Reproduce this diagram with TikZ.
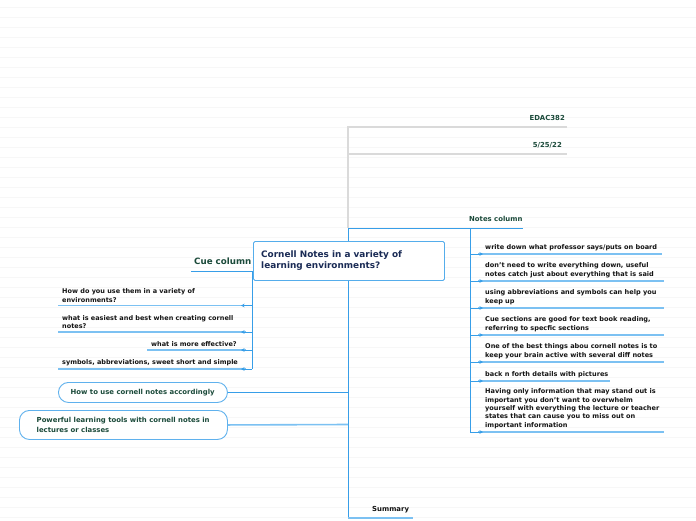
\documentclass[tikz,border=0pt]{standalone}
\usepackage{fontspec}
\setmainfont{DejaVu Sans}
\usetikzlibrary{arrows.meta}
\definecolor{bline}{HTML}{379EE8}
\definecolor{lline}{HTML}{7CC1F2}
\definecolor{gline}{HTML}{DADADA}
\definecolor{dgreen}{HTML}{1B4A3A}
\definecolor{navy}{HTML}{1A2B55}
\definecolor{bgline}{HTML}{F7F7F7}
\definecolor{ink}{HTML}{141414}
\begin{document}
\begin{tikzpicture}[x=1pt,y=-1pt,
  leaf/.style={font=\fontsize{6.55}{8.3}\selectfont\bfseries, text=ink, align=left, inner sep=0pt, anchor=south west},
  cueleaf/.style={font=\fontsize{6.5}{8.3}\selectfont\bfseries, text=ink, align=left, inner sep=0pt, anchor=south west},
  head/.style={font=\fontsize{6.9}{8}\selectfont\bfseries, text=dgreen, inner sep=0pt},
  trunk/.style={draw=bline, line width=0.9pt},
  under/.style={draw=lline, line width=1.6pt},
  gtrunk/.style={draw=gline, line width=1.5pt},
  tip/.style={draw=bline, line width=0.9pt, -{Stealth[length=3.5pt,width=3.5pt]}},
  pill/.style={draw=bline!80, line width=0.9pt, rounded corners=10pt, fill=white},
  pilltext/.style={font=\fontsize{6.9}{9.3}\selectfont\bfseries, text=dgreen, align=left, inner sep=0pt}
]
\useasboundingbox (0,0) rectangle (696,520);
\fill[white] (0,0) rectangle (696,520);
\foreach \yy in {7,17,...,517} \draw[bgline,line width=0.7pt] (0,\yy) -- (696,\yy);

% ---- gray date branches
\coordinate (gtop) at (348,127);
\coordinate (gmid) at (348,154);
\coordinate (jn) at (348,228);
\coordinate (g1e) at (567,127);
\coordinate (g2e) at (567,154);
\node[head, anchor=base east] (edac) at (565,120) {EDAC382};
\node[head, anchor=base east] (date) at (562,147) {5/25/22};
\draw[gtrunk] (g1e) -- (gtop) -- (jn);
\draw[gtrunk] (gmid) -- (g2e);

% ---- main trunk
\coordinate (sumend) at (348,518);
\draw[trunk] (jn) -- (sumend);

% ---- notes column
\coordinate (nce) at (523,228);
\coordinate (nv) at (470,228);
\coordinate (nvb) at (470,432);
\node[head, anchor=base west] (notescol) at (469,221) {Notes column};
\draw[trunk] (jn) -- (nce);
\draw[trunk] (nv) -- (nvb);

\foreach \i/\yy/\xe/\txt in {
 1/254/662/{write down what professor says/puts on board},
 2/281/664/{don't need to write everything down, useful\\notes catch just about everything that is said},
 3/308/664/{using abbreviations and symbols can help you\\keep up},
 4/335/664/{Cue sections are good for text book reading,\\referring to specfic sections},
 5/362/664/{One of the best things abou cornell notes is to\\keep your brain active with several diff notes},
 6/381/610/{back n forth details with pictures},
 7/432/664/{Having only information that may stand out is\\important you don't want to overwhelm\\yourself with everything the lecture or teacher\\states that can cause you to miss out on\\important information}} {
  \node[leaf] (note\i) at (485,\yy-3.3) {\txt};
  \coordinate (ns\i) at (470,\yy);
  \coordinate (nh\i) at (483,\yy);
  \coordinate (nu\i) at (478,\yy);
  \coordinate (ne\i) at (\xe,\yy);
  \draw[under] (nu\i) -- (ne\i);
  \draw[tip] (ns\i) -- (nh\i);
}

% ---- cue column
\coordinate (cv) at (252,271);
\coordinate (cvb) at (252,369);
\coordinate (cus) at (191,271);
\node[font=\fontsize{8.7}{9}\selectfont\bfseries, text=dgreen, inner sep=0pt, anchor=base west] (cuecol) at (194,264.5) {Cue column};
\draw[trunk] (cus) -- (cv) -- (cvb);

\foreach \i/\yy/\xs in {1/305.5/58, 2/332/58, 3/350/147, 4/369/58} {
  \coordinate (cs\i) at (252,\yy);
  \coordinate (ch\i) at (241,\yy);
  \coordinate (cu\i) at (246,\yy);
  \coordinate (ce\i) at (\xs,\yy);
  \draw[under] (cu\i) -- (ce\i);
  \draw[tip] (cs\i) -- (ch\i);
}
\node[cueleaf] (cue1) at (62,302.3) {How do you use them in a variety of\\environments?};
\node[cueleaf] (cue2) at (62,328.8) {what is easiest and best when creating cornell\\notes?};
\node[cueleaf] (cue3) at (151,346.8) {what is more effective?};
\node[cueleaf] (cue4) at (62,365.8) {symbols, abbreviations, sweet short and simple};

% ---- central topic
\node[draw=bline!85, line width=0.9pt, rounded corners=1.5pt, fill=white,
      minimum width=191pt, minimum height=39pt, anchor=north west, inner sep=0pt] (root) at (253,241) {};
\node[font=\fontsize{8.9}{11}\selectfont\bfseries, text=navy, align=left, inner sep=0pt, anchor=north west] (roottext) at (261,250.3) {Cornell Notes in a variety of\\learning environments?};

% ---- pills
\node[pill, minimum width=169pt, minimum height=20pt, anchor=north west, inner sep=0pt] (p1) at (58,382) {};
\node[pilltext, anchor=west] (p1t) at (70.5,392.5) {How to use cornell notes accordingly};
\node[pill, minimum width=208pt, minimum height=29pt, anchor=north west, inner sep=0pt] (p2) at (19,410) {};
\node[pilltext, anchor=west] (p2t) at (36.5,425) {Powerful learning tools with cornell notes in\\lectures or classes};
\coordinate (p1j) at (348,392.5);
\coordinate (p2j) at (348,424.5);
\draw[trunk] (p1.east) -- (p1j);
\draw[under] (p2.east) -- (p2j);

% ---- summary
\node[font=\fontsize{6.9}{8}\selectfont\bfseries, text=ink, inner sep=0pt, anchor=base west] (summary) at (372,511.5) {Summary};
\coordinate (sue) at (413,518);
\draw[under] (sumend) -- (sue);
\end{tikzpicture}
\end{document}
